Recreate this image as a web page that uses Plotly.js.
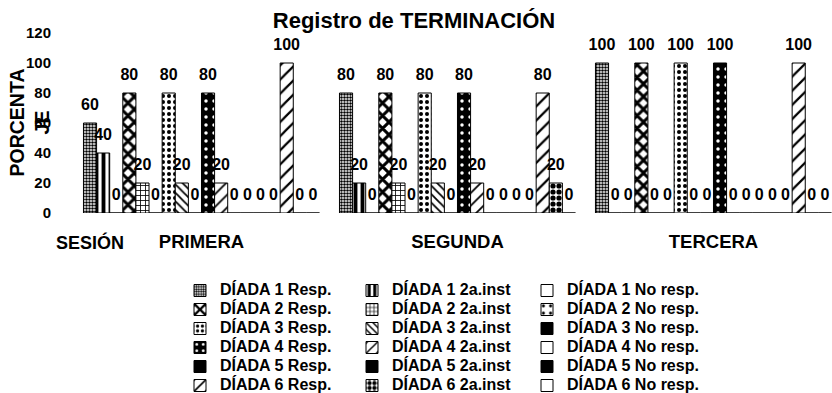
<!DOCTYPE html>
<html>
<head>
<meta charset="utf-8">
<script src="https://cdn.plot.ly/plotly-3.0.1.min.js"></script>
<style>
  html, body { margin: 0; padding: 0; background: #ffffff; }
  #chart { width: 832px; height: 393px; }
</style>
</head>
<body>
<div id="chart"></div>
<script>
// ---- data ----
const categories = ['PRIMERA', 'SEGUNDA', 'TERCERA'];
const seriesNames = [
  'DÍADA 1 Resp.', 'DÍADA 1 2a.inst', 'DÍADA 1 No resp.',
  'DÍADA 2 Resp.', 'DÍADA 2 2a.inst', 'DÍADA 2 No resp.',
  'DÍADA 3 Resp.', 'DÍADA 3 2a.inst', 'DÍADA 3 No resp.',
  'DÍADA 4 Resp.', 'DÍADA 4 2a.inst', 'DÍADA 4 No resp.',
  'DÍADA 5 Resp.', 'DÍADA 5 2a.inst', 'DÍADA 5 No resp.',
  'DÍADA 6 Resp.', 'DÍADA 6 2a.inst', 'DÍADA 6 No resp.'
];
const d1Resp = [60, 80, 100];
const d1Inst = [40, 20, 0];
const d1No   = [0, 0, 0];
const d2Resp = [80, 80, 100];
const d2Inst = [20, 20, 0];
const d2No   = [0, 0, 0];
const d3Resp = [80, 80, 100];
const d3Inst = [20, 20, 0];
const d3No   = [0, 0, 0];
const d4Resp = [80, 80, 100];
const d4Inst = [20, 20, 0];
const d4No   = [0, 0, 0];
const d5Resp = [0, 0, 0];
const d5Inst = [0, 0, 0];
const d5No   = [0, 0, 0];
const d6Resp = [100, 80, 100];
const d6Inst = [0, 20, 0];
const d6No   = [0, 0, 0];
const yTicks = [0, 20, 40, 60, 80, 100, 120];

const seriesValues = [
  d1Resp, d1Inst, d1No, d2Resp, d2Inst, d2No, d3Resp, d3Inst, d3No,
  d4Resp, d4Inst, d4No, d5Resp, d5Inst, d5No, d6Resp, d6Inst, d6No
];

// ---- styles (fill patterns imitating the black & white original) ----
const styles = [
  {bg: '#ffffff', shape: '.', fg: '#000', size: 3, sol: 0.55},   // D1 Resp
  {bg: '#ffffff', shape: '|', fg: '#000', size: 7, sol: 0.55},   // D1 2a
  {bg: '#ffffff', shape: '', fg: '#000', size: 8, sol: 0.3},     // D1 No
  {bg: '#ffffff', shape: 'x', fg: '#000', size: 9, sol: 0.55},   // D2 Resp
  {bg: '#ffffff', shape: '+', fg: '#000', size: 5, sol: 0.3},    // D2 2a
  {bg: '#ffffff', shape: '.', fg: '#000', size: 9, sol: 0.15},   // D2 No
  {bg: '#ffffff', shape: '.', fg: '#000', size: 6, sol: 0.35},   // D3 Resp
  {bg: '#ffffff', shape: '\\', fg: '#000', size: 6, sol: 0.3},   // D3 2a
  {bg: '#000000', shape: '', fg: '#000', size: 8, sol: 0.3},     // D3 No
  {bg: '#000000', shape: '.', fg: '#fff', size: 8, sol: 0.15},   // D4 Resp
  {bg: '#ffffff', shape: '/', fg: '#000', size: 9, sol: 0.2},    // D4 2a
  {bg: '#ffffff', shape: '', fg: '#000', size: 8, sol: 0.3},     // D4 No
  {bg: '#000000', shape: '', fg: '#000', size: 8, sol: 0.3},     // D5 Resp
  {bg: '#000000', shape: '', fg: '#000', size: 8, sol: 0.3},     // D5 2a
  {bg: '#000000', shape: '', fg: '#000', size: 8, sol: 0.3},     // D5 No
  {bg: '#ffffff', shape: '/', fg: '#000', size: 10, sol: 0.22},  // D6 Resp
  {bg: '#ffffff', shape: '.', fg: '#000', size: 6, sol: 0.6},    // D6 2a
  {bg: '#ffffff', shape: '', fg: '#000', size: 8, sol: 0.3}      // D6 No
];

const FONT = 'Arial, "Liberation Sans", Helvetica, sans-serif';
const legendIds = ['legend', 'legend2', 'legend3'];

const traces = seriesNames.map((name, i) => {
  const st = styles[i];
  const marker = {
    color: st.bg,
    line: {color: '#000000', width: 1}
  };
  if (st.shape) {
    marker.pattern = {shape: st.shape, fgcolor: st.fg, bgcolor: st.bg,
                      size: st.size, solidity: st.sol, fillmode: 'replace'};
  }
  return {
    type: 'bar',
    name: "<span style='font-size:16px'>" + name + "</span>",
    legend: legendIds[i % 3],
    x: categories,
    y: seriesValues[i],
    marker: marker,
    texttemplate: "<span style='font-size:16px'>%{y}</span><br><span style='color:rgba(0,0,0,0)'>.</span>",
    textposition: 'outside',
    constraintext: 'none',
    cliponaxis: false,
    textfont: {family: FONT, size: 7, color: '#000000', weight: 'bold'},
    hoverinfo: 'skip'
  };
});

function legendAt(xPix) {
  return {
    orientation: 'v',
    x: (xPix - 58) / 774, xanchor: 'left',
    y: -(276 - 213) / 180, yanchor: 'top',
    bgcolor: 'rgba(0,0,0,0)',
    font: {family: FONT, size: 11, color: '#000000', weight: 'bold'},
    traceorder: 'normal'
  };
}

const layout = {
  width: 832,
  height: 393,
  margin: {l: 58, r: 0, t: 33, b: 180, autoexpand: false},
  paper_bgcolor: '#ffffff',
  plot_bgcolor: '#ffffff',
  font: {family: FONT, color: '#000000', weight: 'bold'},
  barmode: 'group',
  bargap: 0.078,
  bargroupgap: 0,
  showlegend: true,
  title: {
    text: 'Registro de TERMINACIÓN',
    font: {family: FONT, size: 22, color: '#000000', weight: 'bold'},
    x: 0.4976, xanchor: 'center', xref: 'container',
    y: 0.949, yanchor: 'middle', yref: 'container'
  },
  xaxis: {
    type: 'category',
    range: [-0.5605, 2.463],
    showgrid: false, zeroline: false, showline: false,
    ticks: 'outside', ticklen: 12, tickcolor: 'rgba(0,0,0,0)',
    tickfont: {family: FONT, size: 18.5, color: '#000000', weight: 'bold'}
  },
  yaxis: {
    range: [0, 120],
    tickvals: yTicks,
    showgrid: false, zeroline: false, showline: false,
    ticks: 'outside', ticklen: 3, tickcolor: 'rgba(0,0,0,0)',
    tickfont: {family: FONT, size: 15, color: '#000000', weight: 'bold'}
  },
  legend: legendAt(180),
  legend2: legendAt(352),
  legend3: legendAt(527),
  annotations: [{
    text: 'SESIÓN',
    xref: 'paper', yref: 'paper',
    x: (90 - 58) / 774, y: -(242 - 213) / 180,
    xanchor: 'center', yanchor: 'middle',
    showarrow: false,
    font: {family: FONT, size: 18, color: '#000000', weight: 'bold'}
  }, {
    text: 'PORCENTA<br>JE',
    textangle: -90,
    xref: 'paper', yref: 'paper',
    x: (28.5 - 58) / 774, y: 0.5,
    xanchor: 'center', yanchor: 'middle',
    showarrow: false,
    font: {family: FONT, size: 19.5, color: '#000000', weight: 'bold'}
  }]
};

Plotly.newPlot('chart', traces, layout, {displayModeBar: false, staticPlot: true});
</script>
</body>
</html>
